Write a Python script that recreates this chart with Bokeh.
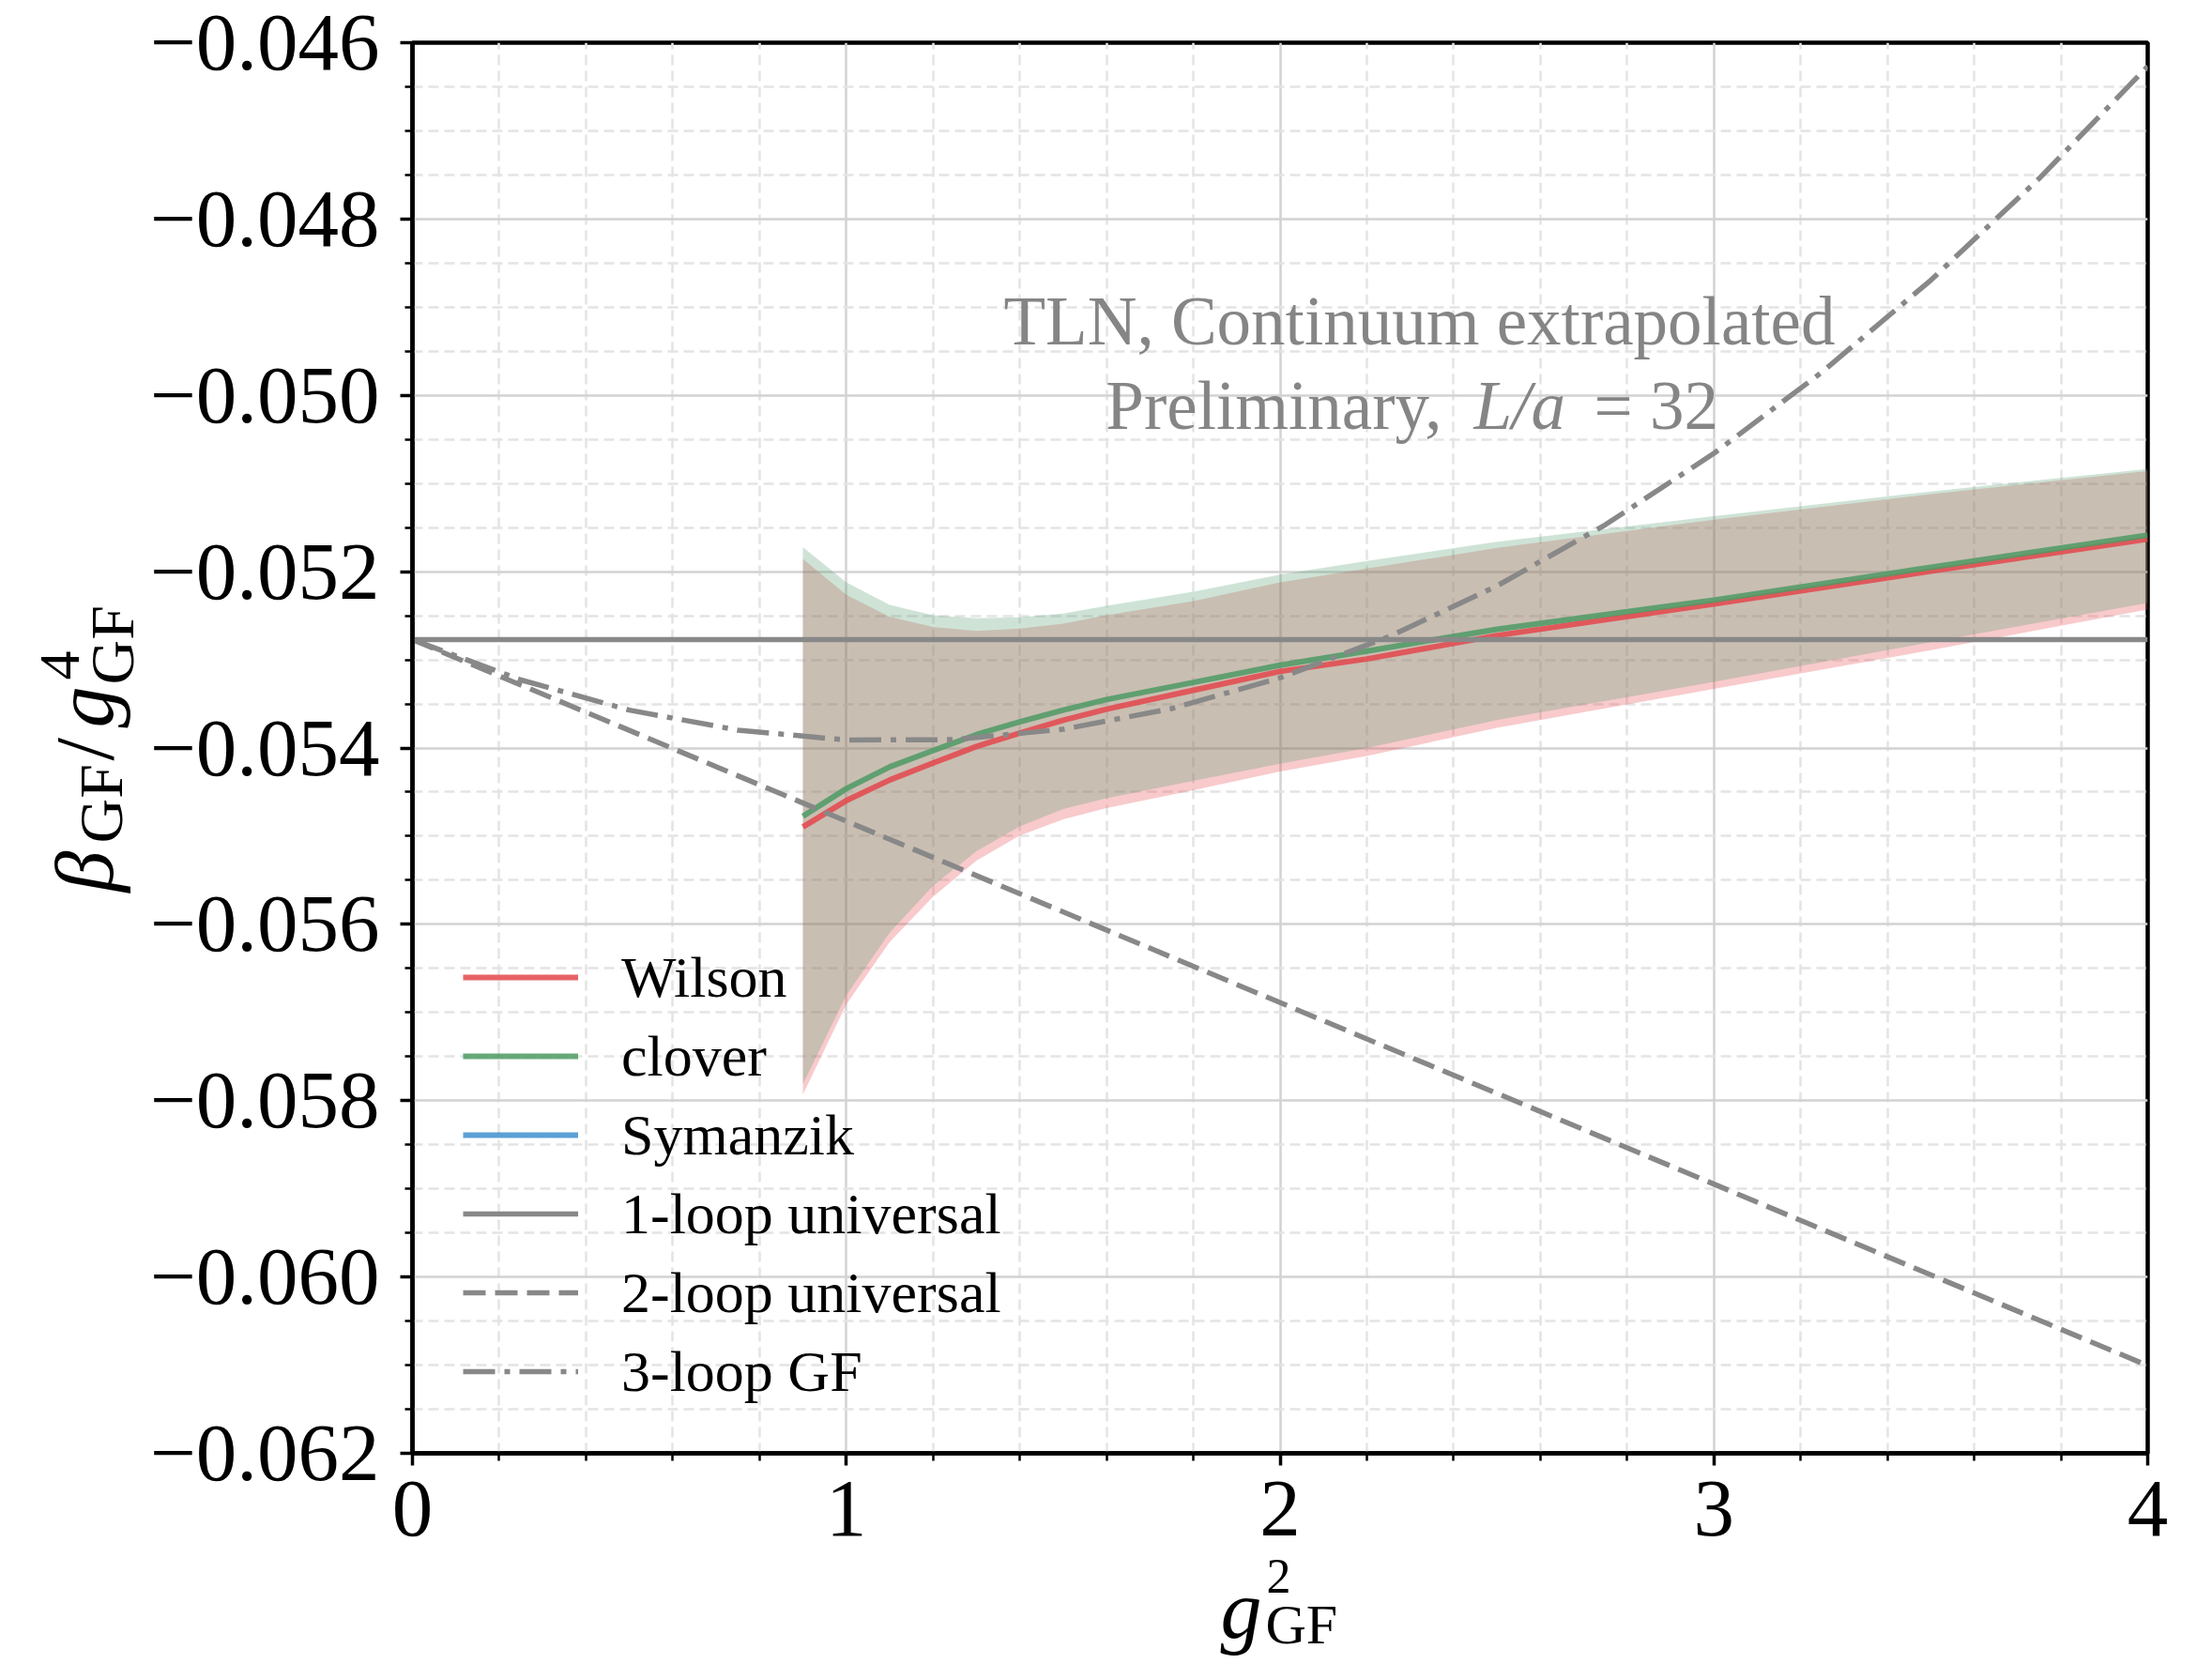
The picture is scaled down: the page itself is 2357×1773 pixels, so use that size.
import numpy as np
from bokeh.plotting import figure
from bokeh.models import FixedTicker, CustomJSTickFormatter, Legend, LegendItem
from bokeh.core.properties import value
from bokeh.embed import file_html
from bokeh.resources import INLINE

# ---------------- data ----------------
g2_lat = [0.9, 1.0, 1.1, 1.2, 1.3, 1.4, 1.5, 1.6, 1.8, 2.0, 2.2, 2.5, 3.0, 3.5, 4.0]

wilson_mid = [-0.054895, -0.054597, -0.054363, -0.054171, -0.053983, -0.053831, -0.053685,
              -0.053560, -0.053345, -0.053131, -0.052990, -0.052724, -0.052365, -0.051995, -0.051630]
wilson_hi = [-0.051854, -0.052262, -0.052511, -0.052628, -0.052671, -0.052645, -0.052589,
             -0.052494, -0.052334, -0.052121, -0.051965, -0.051731, -0.051410, -0.051120, -0.050858]
wilson_lo = [-0.057932, -0.056910, -0.056200, -0.055686, -0.055278, -0.054994, -0.054810,
             -0.054680, -0.054480, -0.054267, -0.054090, -0.053770, -0.053330, -0.052890, -0.052430]

clover_mid = [-0.054774, -0.054462, -0.054214, -0.054029, -0.053848, -0.053703, -0.053570,
              -0.053450, -0.053256, -0.053060, -0.052901, -0.052653, -0.052322, -0.051950, -0.051585]
clover_hi = [-0.051723, -0.052120, -0.052376, -0.052493, -0.052528, -0.052518, -0.052475,
             -0.052387, -0.052227, -0.052032, -0.051880, -0.051660, -0.051370, -0.051090, -0.050834]
clover_lo = [-0.057815, -0.056804, -0.056094, -0.055562, -0.055172, -0.054888, -0.054693,
             -0.054570, -0.054373, -0.054178, -0.054000, -0.053682, -0.053250, -0.052800, -0.052353]

# Symanzik appears only in the legend (no visible curve in the picture)
symanzik_x = [float("nan"), float("nan")]
symanzik_mid = [float("nan"), float("nan")]

loop_x2 = [0.0, 4.0]
one_loop = [-0.052771, -0.052771]
two_loop = [-0.052771, -0.061005]

loop_x3 = [0.0, 0.25, 0.5, 0.75, 1.0, 1.25, 1.5, 1.75, 2.0, 2.25, 2.5, 2.75, 3.0, 3.25, 3.5, 3.75, 4.0]
three_loop = [-0.052771, -0.053228, -0.053570, -0.053797, -0.053909, -0.053905, -0.053787,
              -0.053553, -0.053204, -0.052740, -0.052161, -0.051467, -0.050658, -0.049733,
              -0.048694, -0.047539, -0.046269]

x_major = [0, 1, 2, 3, 4]
x_minor = [0.2, 0.4, 0.6, 0.8, 1.2, 1.4, 1.6, 1.8, 2.2, 2.4, 2.6, 2.8, 3.2, 3.4, 3.6, 3.8]
y_major = [-0.062, -0.060, -0.058, -0.056, -0.054, -0.052, -0.050, -0.048, -0.046]
y_minor = [round(-0.062 + 0.0005 * i, 4) for i in range(33) if i % 4 != 0]

legend_labels = ["Wilson", "clover", "Symanzik", "1-loop universal", "2-loop universal", "3-loop GF"]

# ---------------- styling ----------------
SERIF = "Liberation Serif"
RED_BAND = "#e84e55"
GREEN_BAND = "#5ca276"
RED = "#e4474b"
GREEN = "#4e9a64"
BLUE = "#3d8fcc"
GRAY = "#888888"
ANN = "#858585"

FL, FT, FW, FH = 439, 45, 1849, 1503   # frame position/size on the page (px)

p = figure(frame_width=FW, frame_height=FH,
           x_range=(0, 4), y_range=(-0.062, -0.046),
           min_border_left=FL, min_border_right=67, min_border_top=FT, min_border_bottom=223,
           output_backend="svg", toolbar_location=None)
p.background_fill_color = "white"
p.border_fill_color = "white"
p.outline_line_color = "black"
p.outline_line_width = 4.5
p.outline_line_alpha = 1.0

xt = FixedTicker(ticks=x_major, minor_ticks=x_minor)
yt = FixedTicker(ticks=y_major, minor_ticks=y_minor)
p.xaxis.ticker = xt
p.yaxis.ticker = yt
p.xgrid.ticker = xt
p.ygrid.ticker = yt

p.yaxis.formatter = CustomJSTickFormatter(
    code="return (tick < 0 ? '\u2212' : '') + Math.abs(tick).toFixed(3);")
p.xaxis.formatter = CustomJSTickFormatter(code="return tick.toFixed(0);")

for ax in (p.xaxis[0], p.yaxis[0]):
    ax.axis_line_color = "black"
    ax.axis_line_width = 4.5
    ax.major_tick_out = 13
    ax.major_tick_in = 0
    ax.minor_tick_out = 8
    ax.minor_tick_in = 0
    ax.major_tick_line_width = 3.5
    ax.minor_tick_line_width = 2.5
    ax.major_tick_line_color = "black"
    ax.minor_tick_line_color = "black"
    ax.major_label_text_font = SERIF
    ax.major_label_text_font_size = "87px"
    ax.major_label_text_color = "black"
p.xaxis.major_label_standoff = 17
p.yaxis.major_label_standoff = 22

for gr in (p.xgrid[0], p.ygrid[0]):
    gr.grid_line_color = "#d2d2d2"
    gr.grid_line_width = 2.5
    gr.minor_grid_line_color = "#e4e4e4"
    gr.minor_grid_line_width = 2.5
    gr.minor_grid_line_dash = "11 6"

# bands
p.varea(x=g2_lat, y1=wilson_lo, y2=wilson_hi, fill_color=RED_BAND, fill_alpha=0.3)
p.varea(x=g2_lat, y1=clover_lo, y2=clover_hi, fill_color=GREEN_BAND, fill_alpha=0.3)

# central lines
r_w = p.line(g2_lat, wilson_mid, line_color=RED, line_width=6, line_alpha=0.85)
r_c = p.line(g2_lat, clover_mid, line_color=GREEN, line_width=6, line_alpha=0.85)
r_s = p.line(symanzik_x, symanzik_mid, line_color=BLUE, line_width=6, line_alpha=0.85)

# perturbative curves
r_1 = p.line(loop_x2, one_loop, line_color=GRAY, line_width=5.5)
r_2 = p.line(loop_x2, two_loop, line_color=GRAY, line_width=5.5, line_dash="24 10")
r_3 = p.line(loop_x3, three_loop, line_color=GRAY, line_width=5.5, line_dash="34 10 6 10")

legend = Legend(items=[LegendItem(label=l, renderers=[r]) for l, r in
                       zip(legend_labels, [r_w, r_c, r_s, r_1, r_2, r_3])],
                location=(54, 45), padding=0, spacing=0, margin=0,
                glyph_width=123, glyph_height=84, label_height=84,
                label_standoff=46, label_text_font=SERIF, label_text_font_size="62px",
                label_text_color="black",
                border_line_alpha=0, background_fill_alpha=0)
p.add_layout(legend)

# ---------------- texts (text glyphs anchored at one in-frame point, offset in px) ----
AX, AY = 2.0, -0.054
AXP = FL + (AX - 0.0) / 4.0 * FW
AYP = FT + (-0.046 - AY) / 0.016 * FH
BASE_FIX = 0.29   # baseline correction (fraction of font size)


def txt(px, py, text, size, style="normal", color="black", align="left", angle=0.0):
    s = float(size.replace("px", ""))
    if angle == 0.0:
        py = py - BASE_FIX * s
    else:
        px = px - BASE_FIX * s
    p.text(x=[AX], y=[AY], text=[text], x_offset=px - AXP, y_offset=py - AYP,
           angle=angle, text_font=value(SERIF), text_font_size=value(size),
           text_font_style=value(style), text_color=color, text_align=value(align),
           text_baseline=value("alphabetic"), level="overlay")


txt(1512, 363, "TLN, Continuum extrapolated", "73px", color=ANN, align="center")
txt(1536, 453, "Preliminary,", "73px", color=ANN, align="right")
txt(1570, 453, "L/a", "73px", style="italic", color=ANN)
txt(1698, 453, "= 32", "73px", color=ANN)

# y-axis label  beta_GF / g^4_GF  (rotated, reads bottom to top)
R = np.pi / 2
txt(116, 950, "\u03b2", "88px", style="italic", angle=R)
txt(126, 898, "GF", "66px", angle=R)
txt(116, 810, "/", "88px", angle=R)
txt(116, 775, "g", "88px", style="italic", angle=R)
txt(81, 724, "4", "62px", angle=R)
txt(138, 729, "GF", "66px", angle=R)

# x-axis label g^2_GF
txt(1300, 1741, "g", "88px", style="italic")
txt(1349, 1694, "2", "52px")
txt(1348, 1748, "GF", "60px")

open("out.html", "w").write(file_html(p, INLINE))
